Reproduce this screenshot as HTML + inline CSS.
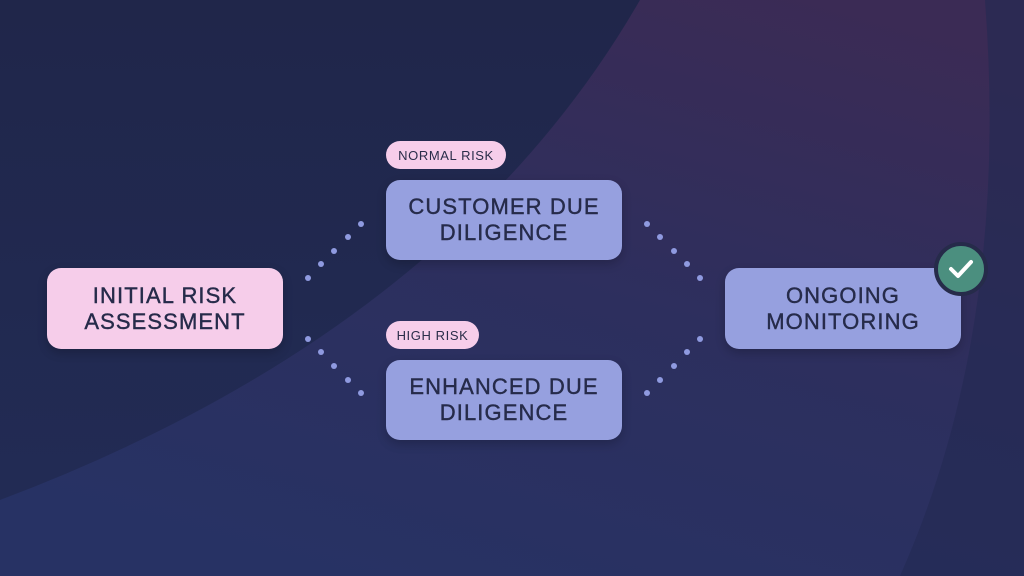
<!DOCTYPE html>
<html><head><style>
*{margin:0;padding:0;box-sizing:border-box}
html,body{width:1024px;height:576px;overflow:hidden}
body{position:relative;font-family:"Liberation Sans",sans-serif;background:#222849}
svg.bg{position:absolute;left:0;top:0}
.box{position:absolute;background:#96a0df;border-radius:14px;color:#262b4a;font-size:22px;letter-spacing:1.1px;text-align:center;display:flex;align-items:center;justify-content:center;line-height:26px;box-shadow:0 4px 10px rgba(0,0,0,.2);-webkit-text-stroke:0.4px #262b4a}
.pink{background:#f6cdea}
.pill{position:absolute;background:#f6cdea;border-radius:14px;color:#2a2d4a;font-size:13px;letter-spacing:.6px;display:flex;align-items:center;justify-content:center;height:28px}
.d{position:absolute;width:6px;height:6px;border-radius:50%;background:#8f9ae0}
.chk{position:absolute;left:934px;top:242px;width:54px;height:54px;border-radius:50%;background:#4b8f7f;border:4px solid #262b4a;display:flex;align-items:center;justify-content:center}
</style></head><body>
<svg class="bg" width="1024" height="576">
<defs>
<linearGradient id="g1" x1="0" y1="0" x2="0" y2="1"><stop offset="0" stop-color="#20264a"/><stop offset="1" stop-color="#222c56"/></linearGradient>
<linearGradient id="g2" x1="0.8" y1="0" x2="0.3" y2="1"><stop offset="0" stop-color="#3b2b55"/><stop offset="0.5" stop-color="#2d2f5e"/><stop offset="1" stop-color="#273264"/></linearGradient>
</defs>
<rect width="1024" height="576" fill="url(#g1)"/>
<path d="M640,0 Q450,330 0,500 L0,576 L1024,576 L1024,0 Z" fill="url(#g2)"/>
<path d="M985,0 Q1010,330 900,576 L1024,576 L1024,0 Z" fill="#232a52" opacity="0.6"/>
</svg>
<div class="box pink" style="left:47px;top:268px;width:236px;height:81px">INITIAL RISK<br>ASSESSMENT</div>
<div class="pill" style="left:386px;top:141px;width:120px">NORMAL RISK</div>
<div class="box" style="left:386px;top:180px;width:236px;height:80px">CUSTOMER DUE<br>DILIGENCE</div>
<div class="pill" style="left:386px;top:321px;width:93px">HIGH RISK</div>
<div class="box" style="left:386px;top:360px;width:236px;height:80px">ENHANCED DUE<br>DILIGENCE</div>
<div class="box" style="left:725px;top:268px;width:236px;height:81px">ONGOING<br>MONITORING</div>
<div class="chk"><svg width="26" height="22" viewBox="0 0 26 22"><path d="M3 11 L10 18 L23 4" fill="none" stroke="#fff" stroke-width="4" stroke-linecap="round" stroke-linejoin="round"/></svg></div>
<div class="d" style="left:305px;top:275px"></div><div class="d" style="left:318px;top:261px"></div><div class="d" style="left:331px;top:248px"></div><div class="d" style="left:345px;top:234px"></div><div class="d" style="left:358px;top:221px"></div>
<div class="d" style="left:305px;top:336px"></div><div class="d" style="left:318px;top:349px"></div><div class="d" style="left:331px;top:363px"></div><div class="d" style="left:345px;top:377px"></div><div class="d" style="left:358px;top:390px"></div>
<div class="d" style="left:644px;top:221px"></div><div class="d" style="left:657px;top:234px"></div><div class="d" style="left:671px;top:248px"></div><div class="d" style="left:684px;top:261px"></div><div class="d" style="left:697px;top:275px"></div>
<div class="d" style="left:697px;top:336px"></div><div class="d" style="left:684px;top:349px"></div><div class="d" style="left:671px;top:363px"></div><div class="d" style="left:657px;top:377px"></div><div class="d" style="left:644px;top:390px"></div>
</body></html>
